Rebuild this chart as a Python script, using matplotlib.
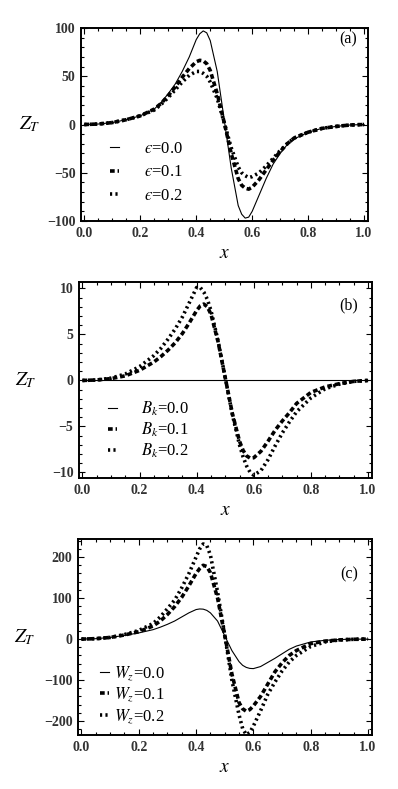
import matplotlib.pyplot as plt
from matplotlib.ticker import MultipleLocator

plt.rcParams['font.family'] = ['Liberation Serif', 'DejaVu Serif']
plt.rcParams['mathtext.fontset'] = 'stix'

# x grid shared by all curves
x = [0.0, 0.05, 0.1, 0.15, 0.2, 0.25, 0.275, 0.3, 0.325, 0.35,
     0.375, 0.4, 0.4125, 0.425, 0.4375, 0.45, 0.475, 0.5, 0.525, 0.55,
     0.5625, 0.575, 0.5875, 0.6, 0.625, 0.65, 0.675, 0.7, 0.725, 0.75,
     0.8, 0.85, 0.9, 0.95, 1.0]

# (a) eps = 0.0, 0.1, 0.2
a_eps0 = [0, 0.5, 2, 5, 9, 16, 23, 32, 42, 55,
          70, 88, 94, 97, 95, 87, 55, 5, -45, -84,
          -93, -97, -96, -90, -73, -56, -41, -30, -21, -15,
          -8, -4, -2, -0.5, 0]
a_eps1 = [0, 0.5, 2, 5, 9, 16, 22, 30, 39, 49,
          58, 65, 66.5, 66, 63, 56, 32, 2, -30, -56,
          -63, -66, -67, -65, -57, -47, -37, -28, -20, -14,
          -8, -4, -2, -0.5, 0]
a_eps2 = [0, 0.5, 2, 5, 9, 15, 21, 28, 36, 44,
          51, 55, 55, 53, 50, 44, 27, 2, -24, -44,
          -50, -53, -55, -54, -50, -43, -35, -27, -20, -14,
          -8, -4, -2, -0.5, 0]

# (b) B_k = 0.0, 0.1, 0.2
b_bk0 = [0] * 35
b_bk1 = [0, 0.05, 0.2, 0.5, 1.1, 2.0, 2.6, 3.3, 4.1, 5.1,
         6.3, 7.6, 8.1, 8.3, 8.0, 7.2, 4.2, 0.3, -3.6, -6.6,
         -7.6, -8.2, -8.45, -8.4, -7.7, -6.6, -5.4, -4.4, -3.5, -2.5,
         -1.3, -0.7, -0.35, -0.1, 0]
b_bk2 = [0, 0.05, 0.25, 0.7, 1.5, 2.7, 3.5, 4.5, 5.6, 6.9,
         8.5, 10.1, 10.1, 9.6, 8.8, 7.6, 4.3, 0.3, -3.7, -7.0,
         -8.3, -9.3, -10.0, -10.3, -9.8, -8.6, -7.1, -5.7, -4.5, -3.4,
         -1.9, -0.9, -0.4, -0.1, 0]

# (c) W_z = 0.0, 0.1, 0.2
c_wz0 = [0, 1, 4, 9, 15, 23, 29, 36, 44, 54,
         64, 72, 73.5, 73, 70, 64, 44, 8, -28, -55,
         -64, -69, -71.5, -72, -67, -57, -47, -36, -25, -17,
         -7, -3, -1, -0.3, 0]
c_wz1 = [0, 1, 4, 10, 18, 32, 44, 60, 79, 102,
         130, 160, 172, 180, 177, 162, 100, 10, -85, -155,
         -170, -176, -172, -163, -140, -110, -80, -58, -40, -28,
         -11, -5, -2, -0.5, 0]
c_wz2 = [0, 1, 4, 11, 21, 38, 54, 74, 95, 125,
         160, 200, 220, 232, 228, 205, 115, 10, -100, -185,
         -218, -233, -228, -212, -175, -135, -105, -78, -56, -40,
         -18, -7, -2, -0.5, 0]

solid = dict(color='black', lw=0.8, ls='-')
dashed = dict(color='black', lw=2.6, ls=(0, (1.3, 0.8)), dash_capstyle='butt')
dotted = dict(color='black', lw=2.6, ls=(0, (0.6, 0.9)), dash_capstyle='butt')

fig = plt.figure(figsize=(3.98, 7.89), dpi=100)

panels = [
    dict(rect=[0.2035, 0.7199, 0.7211, 0.2446], ys=[a_eps0, a_eps1, a_eps2],
         name='$\u03f5$', ylim=(-100, 100), major=50, minor=10,
         tag='(a)', tagpos=(0.96, 0.985), leg=(0.1, 0.252), lsp=0.45, tpad=1.5),
    dict(rect=[0.1985, 0.3942, 0.7362, 0.2484], ys=[b_bk0, b_bk1, b_bk2],
         name=r'$B_k$', ylim=(-10.6, 10.7), major=5, minor=1,
         tag='(b)', tagpos=(0.953, 0.92), leg=(0.1, 0.245), lsp=0.15, tpad=1.4),
    dict(rect=[0.196, 0.0684, 0.7387, 0.2484], ys=[c_wz0, c_wz1, c_wz2],
         name=r'$W_z$', ylim=(-234, 244), major=100, minor=20,
         tag='(c)', tagpos=(0.953, 0.86), leg=(0.075, 0.204), lsp=0.2, tpad=0.3),
]

vals = ['0.0', '0.1', '0.2']

for p in panels:
    ax = fig.add_axes(p['rect'])
    styles = [solid, dashed, dotted]
    for y, st, v in zip(p['ys'], styles, vals):
        ax.plot(x, y, label=p['name'] + '=' + v, **st)
    ax.set_xlim(-0.012, 1.014)
    ax.set_ylim(*p['ylim'])
    ax.xaxis.set_major_locator(MultipleLocator(0.2))
    ax.xaxis.set_minor_locator(MultipleLocator(0.05))
    ax.yaxis.set_major_locator(MultipleLocator(p['major']))
    ax.yaxis.set_minor_locator(MultipleLocator(p['minor']))
    ax.xaxis.set_major_formatter(plt.FuncFormatter(lambda v, pos: '%.1f' % v))
    ax.yaxis.set_major_formatter(plt.FuncFormatter(
        lambda v, pos: ('%g' % v).replace('-', '\u2212')))
    ax.tick_params(which='both', direction='in', top=True, right=True, width=0.8)
    ax.tick_params(which='major', length=4, labelsize=10, colors='black',
                   labelcolor='#333333', pad=4)
    ax.tick_params(which='minor', length=2)
    for lab in ax.get_xticklabels() + ax.get_yticklabels():
        lab.set_fontweight('bold')
    for s in ax.spines.values():
        s.set_linewidth(1.4)
    ax.set_xlabel(r'$x$', fontsize=14, labelpad=4)
    ax.set_ylabel(r'$Z_T$', fontsize=14, rotation=0, ha='center', va='center')
    ax.yaxis.set_label_coords(-0.18, 0.5)
    ax.text(p['tagpos'][0], p['tagpos'][1], p['tag'], transform=ax.transAxes,
            ha='right', va='top', fontsize=11.5)
    ax.legend(loc='center left', bbox_to_anchor=p['leg'], frameon=False,
              fontsize=12, handlelength=0.55, handletextpad=p['tpad'],
              borderpad=0, borderaxespad=0, labelspacing=p['lsp'])

fig.savefig('out.png', dpi=100)
